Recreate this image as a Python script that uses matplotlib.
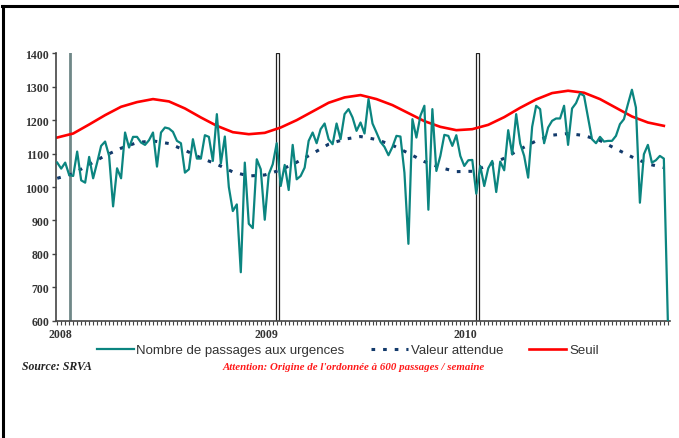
import numpy as np
import matplotlib.pyplot as plt
from matplotlib.lines import Line2D
from matplotlib.patches import Rectangle
from matplotlib.ticker import MultipleLocator

# weekly emergency visits (SRVA), 2008 -> autumn 2010
passages = [1073, 1055, 1073, 1036, 1033, 1106, 1020, 1013, 1090, 1026,
            1073, 1123, 1136, 1093, 942, 1056, 1026, 1163, 1118, 1150,
            1150, 1133, 1126, 1140, 1163, 1061, 1163, 1178, 1175, 1165,
            1138, 1131, 1043, 1053, 1143, 1085, 1085, 1155, 1150, 1078,
            1218, 1070, 1151, 1000, 928, 948, 745, 1073, 890, 877,
            1083, 1053, 902, 1038, 1068, 1131, 1003, 1066, 991, 1126,
            1023, 1033, 1058, 1138, 1163, 1131, 1173, 1190, 1143, 1128,
            1190, 1143, 1218, 1233, 1208, 1168, 1193, 1160, 1263, 1190,
            1163, 1135, 1120, 1095, 1120, 1153, 1151, 1043, 830, 1203,
            1148, 1213, 1243, 932, 1233, 1048, 1093, 1156, 1153, 1123,
            1155, 1093, 1063, 1080, 1081, 980, 1063, 1003, 1056, 1078,
            985, 1076, 1050, 1170, 1098, 1218, 1130, 1093, 1028, 1180,
            1243, 1233, 1131, 1178, 1198, 1205, 1205, 1243, 1126, 1235,
            1251, 1280, 1273, 1208, 1143, 1131, 1150, 1136, 1138, 1138,
            1153, 1188, 1203, 1248, 1291, 1238, 953, 1098, 1126, 1073,
            1080, 1093, 1085, 600]

# expected value and threshold, read every 4 weeks
weeks_model = list(range(0, 153, 4))
attendue = [1026, 1040, 1067, 1094, 1116, 1133, 1138, 1130, 1110, 1087,
            1068, 1045, 1033, 1036, 1051, 1074, 1100, 1128, 1143, 1151,
            1142, 1125, 1101, 1076, 1058, 1046, 1047, 1065, 1086, 1113,
            1138, 1155, 1160, 1154, 1139, 1114, 1090, 1069, 1058]
seuil = [1148, 1160, 1187, 1215, 1240, 1254, 1263, 1256, 1235, 1208,
         1183, 1164, 1158, 1162, 1178, 1200, 1226, 1252, 1268, 1275,
         1263, 1245, 1221, 1197, 1180, 1170, 1173, 1186, 1209, 1237,
         1262, 1281, 1288, 1282, 1263, 1237, 1211, 1193, 1183]

# year labels and year marker lines (week index)
year_labels = ['2008', '2009', '2010']
year_label_pos = [0.7, 52.4, 102.3]
year_lines = [3.2, 55.2, 105.3]

weeks = np.arange(len(passages))

fig = plt.figure(figsize=(6.79, 4.39), dpi=100)
ax = fig.add_axes([0.0825, 0.2672, 0.904, 0.6091])

# year marker lines
ax.axvline(year_lines[0], color='#6f8787', lw=2.0, zorder=1)
for xl in year_lines[1:]:
    ax.add_patch(Rectangle((xl - 0.28, 600), 0.56, 800, facecolor='white',
                           edgecolor='#222222', lw=0.9, zorder=1))

ax.plot(weeks, passages, color='#0b8580', lw=1.6, zorder=3,
        label='Nombre de passages aux urgences')
ax.plot(weeks_model, attendue, color='#123a6b', lw=2.2, dashes=(1.2, 2.6),
        zorder=2, label='Valeur attendue')
ax.plot(weeks_model, seuil, color='#ff0000', lw=1.9, zorder=2, label='Seuil')

ax.set_xlim(-0.3, 153.5)
ax.set_ylim(600, 1400)

# axes styling
for s in ['top', 'right']:
    ax.spines[s].set_visible(False)
for s in ['left', 'bottom']:
    ax.spines[s].set_color('#444444')
    ax.spines[s].set_linewidth(1.2)

ax.set_yticks(np.arange(600, 1401, 100))
ax.tick_params(axis='y', length=3, width=1, color='#444444', pad=2)
for lab in ax.get_yticklabels():
    lab.set_fontfamily('Liberation Serif')
    lab.set_fontweight('bold')
    lab.set_fontsize(8.5)
    lab.set_color('#333333')

ax.set_xticks(year_label_pos)
ax.set_xticklabels(year_labels)
ax.xaxis.set_minor_locator(MultipleLocator(1))
ax.tick_params(axis='x', which='major', length=0, pad=5)
ax.tick_params(axis='x', which='minor', length=3, width=0.8, color='#444444')
for lab in ax.get_xticklabels():
    lab.set_fontfamily('Liberation Serif')
    lab.set_fontweight('bold')
    lab.set_fontsize(8.5)
    lab.set_color('#333333')

# legend below
leg = fig.legend(loc='center', bbox_to_anchor=(0.512, 0.2), ncol=3,
                 frameon=False, prop={'family': 'Liberation Sans', 'size': 9.5},
                 handlelength=2.8, handletextpad=0.2, columnspacing=2.0)
for t in leg.get_texts():
    t.set_color('#333333')

fig.text(0.032, 0.164, 'Source: SRVA', family='Liberation Serif',
         weight='bold', style='italic', size=8.5, color='#222222',
         va='center')
fig.text(0.521, 0.164, "Attention: Origine de l'ordonnée à 600 passages / semaine",
         family='Liberation Serif', weight='bold', style='italic', size=7.8,
         color='#ff1a1a', ha='center', va='center')

# outer frame (left and top edges)
fig.add_artist(Line2D([0.004, 0.004], [0.0, 0.985], color='black', lw=2.2,
                      transform=fig.transFigure))
fig.add_artist(Line2D([0.003, 1.0], [0.985, 0.985], color='black', lw=2.2,
                      transform=fig.transFigure))

plt.savefig('out.png', dpi=100)
